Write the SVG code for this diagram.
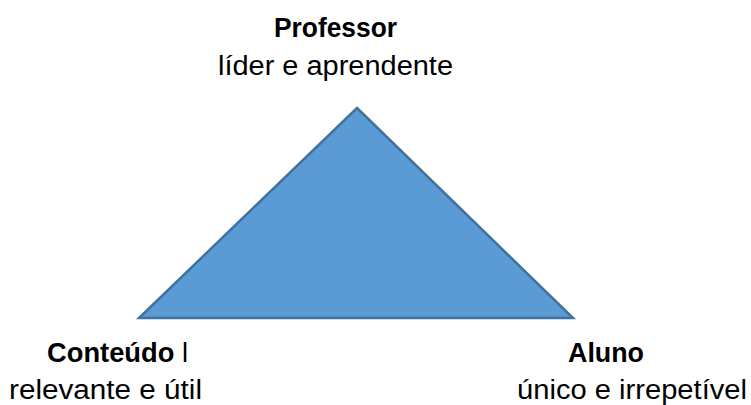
<svg xmlns="http://www.w3.org/2000/svg" width="751" height="405" viewBox="0 0 751 405">
<style>
text{font-family:"Liberation Sans",Arial,sans-serif;font-size:27px;fill:#000}
.b{font-weight:bold}
.tri{fill:#5B9BD5;stroke:#41719C;stroke-width:2.5;stroke-linejoin:miter}
</style>
<rect width="751" height="405" fill="#fff"/>
<g id="triangle">
<polygon class="tri" points="357,108 573,318 139,318"/>
</g>
<g id="professor">
<text class="b" x="274" y="37" textLength="123" lengthAdjust="spacingAndGlyphs">Professor</text>
<text x="218" y="75" textLength="235" lengthAdjust="spacingAndGlyphs">líder e aprendente</text>
</g>
<g id="conteudo">
<text x="47" y="362" textLength="141" lengthAdjust="spacingAndGlyphs"><tspan class="b">Conteúdo</tspan> l</text>
<text x="9" y="399" textLength="193" lengthAdjust="spacingAndGlyphs">relevante e útil</text>
</g>
<g id="aluno">
<text class="b" x="568" y="362" textLength="76" lengthAdjust="spacingAndGlyphs">Aluno</text>
<text x="517" y="399" textLength="230" lengthAdjust="spacingAndGlyphs">único e irrepetível</text>
</g>
<g id="connectors"></g>
</svg>
